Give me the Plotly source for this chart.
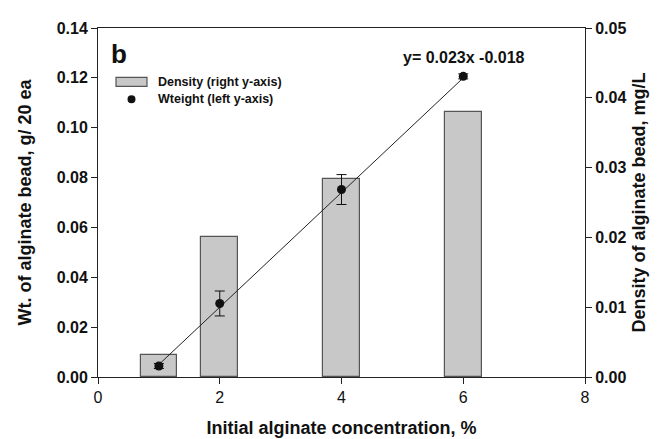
import plotly.graph_objects as go

# Data
conc = [1, 2, 4, 6]
density = [0.0031, 0.0200, 0.0283, 0.0380]          # right axis, mg/L
weight = [0.0044, 0.0295, 0.0752, 0.1206]           # left axis, g/20 ea
weight_err = [0.0010, 0.0050, 0.0060, 0.0010]
fit_x = [1, 6]
fit_y = [0.005, 0.120]
x_ticks = [0, 2, 4, 6, 8]

FONT = "Liberation Sans"
bar_fill = "#c8c8c8"
bar_line = "#555555"

fig = go.Figure()

fig.add_trace(go.Bar(
    x=conc, y=density, width=0.6, yaxis="y",
    marker=dict(color=bar_fill, line=dict(color=bar_line, width=1.2)),
    name="Density (right y-axis)", showlegend=False,
))
fig.add_trace(go.Scatter(
    x=fit_x, y=fit_y, yaxis="y2", mode="lines",
    line=dict(color="#222222", width=1), showlegend=False,
))
fig.add_trace(go.Scatter(
    x=conc, y=weight, yaxis="y2", mode="markers",
    marker=dict(color="#111111", size=9),
    error_y=dict(type="data", array=weight_err, color="#111111", thickness=1, width=5),
    name="Wteight (left y-axis)", showlegend=False,
))

tickfont = dict(family=FONT, size=16, color="#111111")
titlefont = dict(family=FONT, size=18, color="#111111")

fig.update_layout(
    width=659, height=439, autosize=False,
    margin=dict(l=90, r=82, t=17, b=69),
    plot_bgcolor="white", paper_bgcolor="white",
    showlegend=False, bargap=0,
    xaxis=dict(
        range=[0, 8], tickvals=x_ticks, ticks="outside", ticklen=6, tickwidth=1,
        tickcolor="#222", showline=True, linecolor="#222", linewidth=1,
        mirror=True, showgrid=False, zeroline=False, tickfont=tickfont,
        tickprefix="<b>", ticksuffix="</b>",
        title=dict(text="<b>Initial alginate concentration, %</b>", font=titlefont, standoff=16),
    ),
    yaxis=dict(
        side="right", range=[0, 0.05], dtick=0.01, tickformat=".2f",
        ticks="outside", ticklen=6, tickwidth=1, tickcolor="#222",
        showline=True, linecolor="#222", linewidth=1, showgrid=False, zeroline=False,
        tickfont=tickfont, tickprefix="<b>", ticksuffix="</b>",
        title=dict(text="<b>Density of alginate bead, mg/L</b>", font=titlefont, standoff=6),
    ),
    yaxis2=dict(
        side="left", overlaying="y", range=[0, 0.14], dtick=0.02, tickformat=".2f",
        ticks="outside", ticklen=6, tickwidth=1, tickcolor="#222",
        showline=True, linecolor="#222", linewidth=1, showgrid=False, zeroline=False,
        tickfont=tickfont, tickprefix="<b>", ticksuffix="</b>",
        title=dict(text="<b>Wt. of alginate bead, g/ 20 ea</b>", font=titlefont, standoff=20),
    ),
)

# panel label
fig.add_annotation(x=0.022, y=0.975, xref="paper", yref="paper", text="<b>b</b>",
                   showarrow=False, xanchor="left", yanchor="top",
                   font=dict(family=FONT, size=26, color="#111111"))

# equation
fig.add_annotation(x=6.02, y=0.128, xref="x", yref="y2", text="<b>y= 0.023x -0.018</b>",
                   showarrow=False, xanchor="center", yanchor="middle",
                   font=dict(family=FONT, size=16, color="#111111"))

# manual legend
fig.add_shape(type="rect", xref="paper", yref="paper",
              x0=(108 - 90) / 487, x1=(139 - 90) / 487,
              y0=(370 - 76) / 353, y1=(370 - 67) / 353,
              fillcolor=bar_fill, line=dict(color=bar_line, width=1.2))
fig.add_shape(type="circle", xref="paper", yref="paper",
              x0=(119.5 - 90) / 487, x1=(127.5 - 90) / 487,
              y0=(370 - 93) / 353, y1=(370 - 85) / 353,
              fillcolor="#111111", line=dict(color="#111111", width=0))
fig.add_annotation(x=(148 - 90) / 487, y=(370 - 72) / 353, xref="paper", yref="paper",
                   text="<b>Density (right y-axis)</b>", showarrow=False,
                   xanchor="left", yanchor="middle",
                   font=dict(family=FONT, size=12.5, color="#111111"))
fig.add_annotation(x=(148 - 90) / 487, y=(370 - 89) / 353, xref="paper", yref="paper",
                   text="<b>Wteight (left y-axis)</b>", showarrow=False,
                   xanchor="left", yanchor="middle",
                   font=dict(family=FONT, size=12.5, color="#111111"))

fig.write_html("out.html")
